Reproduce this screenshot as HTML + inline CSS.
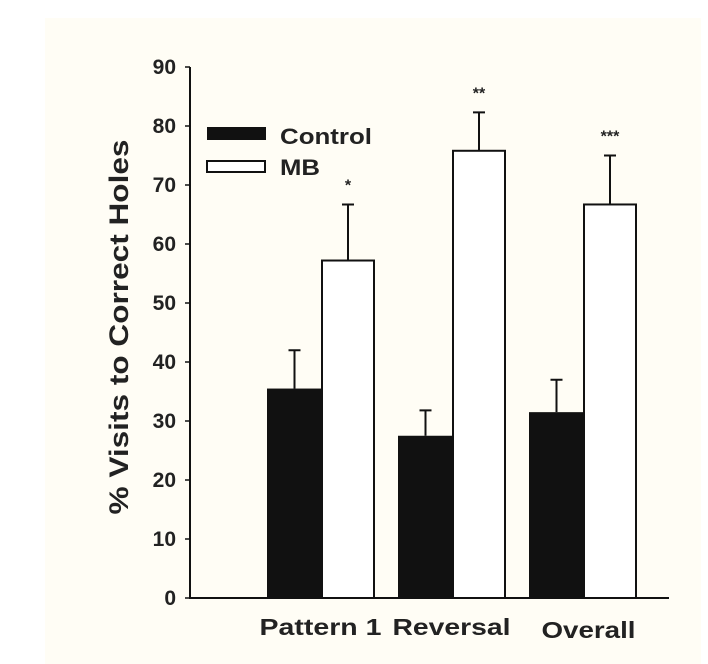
<!DOCTYPE html>
<html><head><meta charset="utf-8"><style>
body{margin:0;background:#fff;}
svg{display:block;font-family:"Liberation Sans",Arial,sans-serif;}
</style></head><body>
<svg id="chart" width="708" height="664">
<rect x="45" y="18" width="656" height="646" fill="#fffdf5"/>
<g id="axes"></g><g id="bars"></g>
<text x="128" y="327" transform="rotate(-90 128 327)" text-anchor="middle" font-size="27" font-weight="bold" fill="#222" textLength="375" lengthAdjust="spacingAndGlyphs">% Visits to Correct Holes</text>
<g>
<rect x="207" y="127" width="59" height="13" fill="#111"/>
<text x="280" y="144" font-size="22" font-weight="bold" fill="#222" textLength="92" lengthAdjust="spacingAndGlyphs">Control</text>
<rect x="207" y="161" width="58" height="11" fill="#fff" stroke="#111" stroke-width="2"/>
<text x="280" y="175" font-size="22" font-weight="bold" fill="#222" textLength="40" lengthAdjust="spacingAndGlyphs">MB</text>
</g>
</svg>
<script>
const categories=["Pattern 1","Reversal","Overall"];
const control=[35.5,27.5,31.5];
const controlErr=[6.5,4.3,5.5];
const mb=[57.2,75.8,66.7];
const mbErr=[9.5,6.5,8.3];
const stars=["*","**","***"];
const yTicks=[0,10,20,30,40,50,60,70,80,90];
const NS="http://www.w3.org/2000/svg";
const y0=598,ppu=5.9;
function y(v){return y0-v*ppu;}
const groupX=[267,398,529], bw=55, bw2=52;
const labelLen=[122,118,94];
function mk(tag,attrs,parent){const e=document.createElementNS(NS,tag);for(const k in attrs)e.setAttribute(k,attrs[k]);parent.appendChild(e);return e;}
const axes=document.getElementById('axes'),bars=document.getElementById('bars');
let a=mk('line',{x1:190,y1:y(90),x2:190,y2:y0+1,stroke:'#111','stroke-width':2},axes);


a=mk('line',{x1:189,y1:y0,x2:669,y2:y0,stroke:'#111','stroke-width':2},axes);


yTicks.forEach(t=>{
 let l=mk('line',{x1:185,y1:y(t),x2:190,y2:y(t),stroke:'#111','stroke-width':1.5},axes);
 
 
 let tx=mk('text',{x:176,y:y(t)+7,'text-anchor':'end','font-size':21,'font-weight':'bold',fill:'#222'},axes);
 tx.textContent=t;
 
 
});
categories.forEach((c,i)=>{
 const gx=groupX[i];
 let r=mk('rect',{x:gx,y:y(control[i]),width:bw,height:y0-y(control[i]),fill:'#111'},bars);
 
 
 let e=mk('path',{d:`M${gx+bw/2},${y(control[i])}V${y(control[i]+controlErr[i])}M${gx+bw/2-6},${y(control[i]+controlErr[i])}H${gx+bw/2+6}`,stroke:'#111','stroke-width':2,fill:'none'},bars);
 
 
 const mx=gx+bw;
 r=mk('rect',{x:mx,y:y(mb[i]),width:bw2,height:y0-y(mb[i]),fill:'#fff',stroke:'#111','stroke-width':2},bars);
 
 
 e=mk('path',{d:`M${mx+bw2/2},${y(mb[i])}V${y(mb[i]+mbErr[i])}M${mx+bw2/2-6},${y(mb[i]+mbErr[i])}H${mx+bw2/2+6}`,stroke:'#111','stroke-width':2,fill:'none'},bars);
 
 
 let s=mk('text',{x:mx+bw2/2,y:y(mb[i]+mbErr[i])-14,'text-anchor':'middle','font-size':16,'font-weight':'bold',fill:'#222'},bars);
 s.textContent=stars[i];
 
 
 let lb=mk('text',{x:gx+(bw+bw2)/2+(i==2?6:0),y:635+(i==2?3:0),'text-anchor':'middle','font-size':23,'font-weight':'bold',fill:'#222',textLength:labelLen[i],lengthAdjust:'spacingAndGlyphs'},bars);
 lb.textContent=c;
 
 
});
</script>
</body></html>
